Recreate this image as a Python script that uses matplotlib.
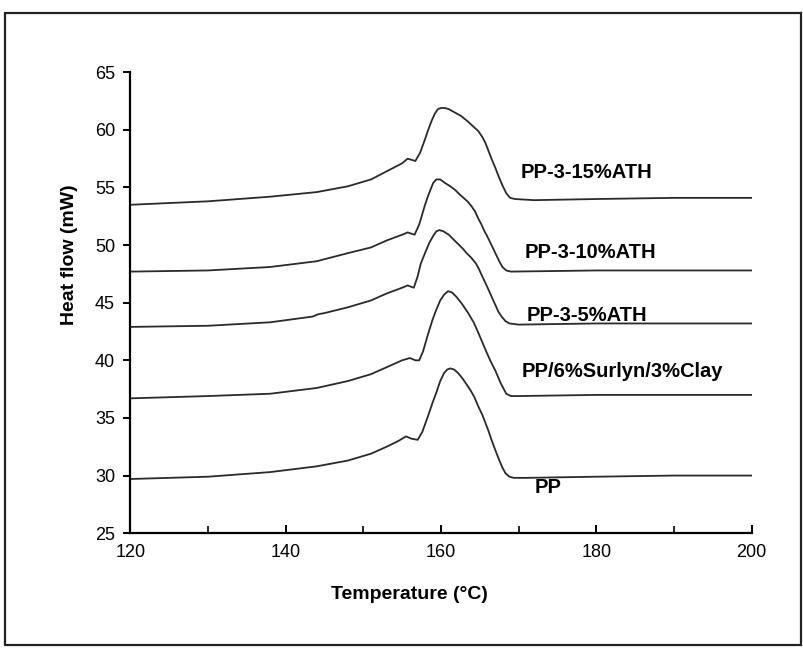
import matplotlib
matplotlib.use("Agg")
import matplotlib.pyplot as plt
from matplotlib.ticker import MultipleLocator
from matplotlib.patches import Rectangle

plt.rcParams['font.family'] = ['Liberation Sans', 'DejaVu Sans']

# DSC melting traces, temperature (C) vs heat flow (mW)
pp_t = [120, 130, 138, 144, 148, 151, 153, 154.5, 155.5, 156.2, 157, 157.6, 158.3, 158.9,
        159.4, 159.9, 160.4, 160.8, 161.2, 161.7, 162.2, 162.8, 163.3, 163.8, 164.3, 164.8,
        165.3, 165.7, 166.1, 166.5, 167.0, 167.4, 167.9, 168.3, 168.8, 169.4, 171,
        180, 190, 200]
pp_mw = [29.7, 29.9, 30.3, 30.8, 31.3, 31.9, 32.5, 33.0, 33.4, 33.2, 33.1, 33.8, 35.1, 36.3,
         37.2, 38.2, 38.9, 39.2, 39.3, 39.2, 38.9, 38.4, 37.9, 37.4, 36.8, 36.0,
         35.3, 34.6, 33.9, 33.1, 32.2, 31.5, 30.7, 30.2, 29.9, 29.8, 29.8,
         29.9, 30.0, 30.0]

sur_t = [120, 130, 138, 144, 148, 151, 153, 155, 156, 156.7, 157.2, 157.7, 158.3, 158.9,
         159.4, 159.9, 160.4, 160.9, 161.4, 162.0, 162.7, 163.5, 164.2, 164.8, 165.3, 165.8,
         166.4, 167.0, 167.7, 168.4, 169.0, 170, 180, 190, 200]
sur_mw = [36.7, 36.9, 37.1, 37.6, 38.2, 38.8, 39.4, 40.0, 40.2, 40.0, 40.0, 40.8, 42.2, 43.5,
          44.4, 45.2, 45.7, 46.0, 45.9, 45.5, 44.9, 44.1, 43.3, 42.4, 41.6, 40.8,
          39.9, 39.1, 38.0, 37.1, 36.9, 36.9, 37.0, 37.0, 37.0]

a5_t = [120, 130, 138, 143.5, 144.2, 145, 148, 151, 153, 155, 155.7, 156.5, 157.0, 157.4,
        158.0, 158.5, 159.0, 159.4, 159.8, 160.3, 161.0, 161.6, 162.2, 162.8, 163.3, 163.9,
        164.5, 164.9, 165.3, 165.8, 166.2, 166.6, 167.0, 167.4, 167.8, 168.3, 168.8, 170,
        180, 190, 200]
a5_mw = [42.9, 43.0, 43.3, 43.8, 44.0, 44.1, 44.6, 45.2, 45.8, 46.3, 46.5, 46.3, 47.3, 48.4,
         49.4, 50.2, 50.8, 51.2, 51.3, 51.2, 50.9, 50.5, 50.1, 49.7, 49.3, 48.9,
         48.4, 47.9, 47.3, 46.6, 46.0, 45.4, 44.8, 44.2, 43.8, 43.4, 43.2, 43.1,
         43.2, 43.2, 43.2]

a10_t = [120, 130, 138, 144, 148, 151, 153, 155, 155.7, 156.6, 157.2, 157.6, 157.9, 158.3,
         158.7, 159.0, 159.4, 159.9, 160.5, 161.2, 161.8, 162.4, 162.9, 163.4, 163.9, 164.4,
         164.8, 165.2, 165.6, 166.0, 166.5, 167.0, 167.5, 167.9, 168.4, 169.0, 180, 190, 200]
a10_mw = [47.7, 47.8, 48.1, 48.6, 49.3, 49.8, 50.4, 50.9, 51.1, 50.9, 51.8, 52.7, 53.4, 54.2,
          54.9, 55.4, 55.7, 55.7, 55.4, 55.1, 54.8, 54.4, 54.1, 53.8, 53.4, 52.9,
          52.3, 51.8, 51.2, 50.7, 50.0, 49.3, 48.6, 48.1, 47.8, 47.7, 47.8, 47.8, 47.8]

a15_t = [120, 130, 138, 144, 148, 151, 153, 155, 155.7, 156.7, 157.3, 157.9, 158.3, 158.8,
         159.2, 159.6, 160.0, 160.5, 161.0, 161.8, 162.6, 163.5, 164.3, 164.8, 165.3, 165.7,
         166.1, 166.5, 167.0, 167.4, 167.9, 168.4, 168.9, 169.5, 172, 180, 190, 200]
a15_mw = [53.5, 53.8, 54.2, 54.6, 55.1, 55.7, 56.4, 57.1, 57.5, 57.3, 58.0, 59.1, 59.9, 60.8,
          61.4, 61.8, 61.9, 61.9, 61.8, 61.5, 61.2, 60.7, 60.2, 59.9, 59.4, 58.9,
          58.2, 57.5, 56.7, 56.0, 55.2, 54.5, 54.1, 54.0, 53.9, 54.0, 54.1, 54.1]

curves = [(pp_t, pp_mw), (sur_t, sur_mw), (a5_t, a5_mw), (a10_t, a10_mw), (a15_t, a15_mw)]

names = ['PP', 'PP/6%Surlyn/3%Clay', 'PP-3-5%ATH', 'PP-3-10%ATH', 'PP-3-15%ATH']
label_x = [172.1, 170.4, 171.0, 170.8, 170.2]
label_y = [29.0, 39.0, 43.9, 49.4, 56.3]

fig = plt.figure(figsize=(8.04, 6.51), dpi=100)
ax = fig.add_axes([0.162, 0.181, 0.773, 0.708])

for t, mw in curves:
    ax.plot(t, mw, color='#2a2a2a', linewidth=1.3, solid_joinstyle='round')

for name, x, y in zip(names, label_x, label_y):
    ax.text(x, y, name, fontsize=14.5, fontweight='bold', ha='left', va='center')

ax.set_xlim(120, 200)
ax.set_ylim(25, 65)
ax.xaxis.set_major_locator(MultipleLocator(20))
ax.xaxis.set_minor_locator(MultipleLocator(10))
ax.yaxis.set_major_locator(MultipleLocator(5))

ax.spines['top'].set_visible(False)
ax.spines['right'].set_visible(False)
for s in ('left', 'bottom'):
    ax.spines[s].set_linewidth(1.6)

ax.tick_params(axis='x', which='major', direction='in', length=6, width=1.4, pad=8,
               labelsize=13)
ax.tick_params(axis='x', which='minor', direction='in', length=5, width=1.2)
ax.tick_params(axis='y', which='major', direction='out', length=5, width=1.4, pad=6,
               labelsize=13)

ax.set_xlabel('Temperature (°C)', fontsize=14, fontweight='bold')
ax.set_ylabel('Heat flow (mW)', fontsize=14, fontweight='bold')
ax.xaxis.set_label_coords(0.45, -0.115)
ax.yaxis.set_label_coords(-0.084, 0.605)

# scanned page frame
fig.patches.append(Rectangle((0.006, 0.009), 0.99, 0.971, transform=fig.transFigure,
                             fill=False, edgecolor='#222222', linewidth=1.6))

fig.savefig('out.png', dpi=100)
